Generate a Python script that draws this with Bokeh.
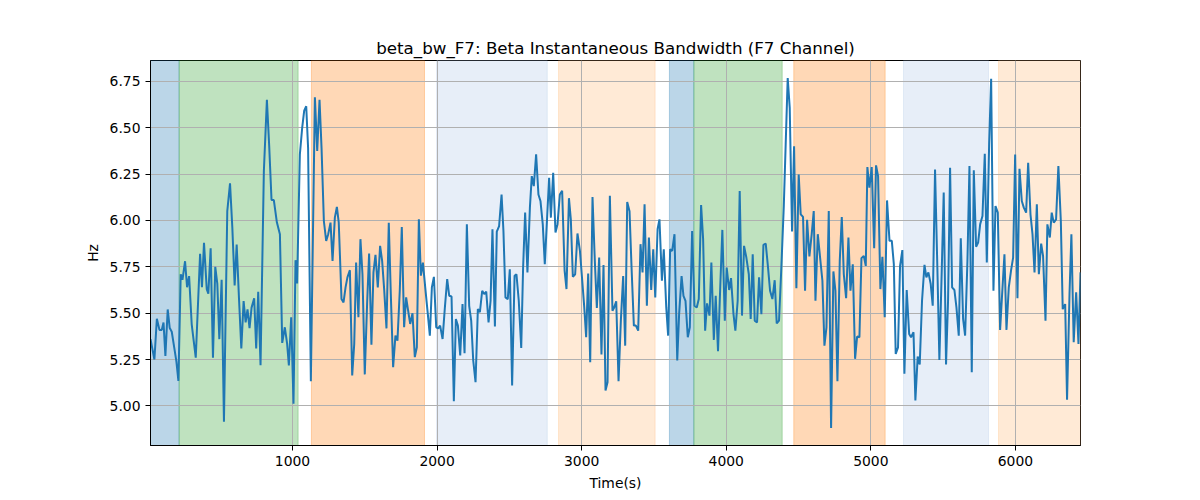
from bokeh.plotting import figure
from bokeh.models import BoxAnnotation, FixedTicker, NumeralTickFormatter, Range1d
from bokeh.embed import file_html
from bokeh.resources import INLINE

TITLE = "beta_bw_F7: Beta Instantaneous Bandwidth (F7 Channel)"
X_LABEL = "Time(s)"
Y_LABEL = "Hz"

x_ticks = [1000, 2000, 3000, 4000, 5000, 6000]
y_ticks = [5.00, 5.25, 5.50, 5.75, 6.00, 6.25, 6.50, 6.75]

# shaded stage bands
band_start = [18, 216, 1131, 1997, 2840, 3607, 3776, 4467, 5226, 5883]
band_end = [216, 1039, 1913, 2762, 3508, 3776, 4387, 5099, 5814, 6450]
band_color = ["#1f77b4", "#2ca02c", "#ff7f0e", "#aec7e8", "#ffbb78",
              "#1f77b4", "#2ca02c", "#ff7f0e", "#aec7e8", "#ffbb78"]

# series, in pieces
t_a = [18, 45, 62, 80, 96, 108, 121, 137, 151, 165, 179, 197, 211, 227, 239, 257, 271, 285, 303, 317,
       331, 361, 374, 388, 407, 418, 434, 450, 466, 480, 494, 510, 526, 549, 568, 584, 600, 614, 630, 646,
       662, 676, 689, 703, 717, 735, 749, 763, 779, 802, 823, 839, 855, 871, 892, 913, 929]
v_a = [5.36, 5.25, 5.47, 5.41, 5.41, 5.45, 5.27, 5.52, 5.42, 5.40, 5.33, 5.24, 5.135, 5.71, 5.68, 5.78, 5.64, 5.70, 5.44, 5.35,
       5.26, 5.82, 5.64, 5.88, 5.63, 5.605, 5.85, 5.26, 5.75, 5.66, 5.36, 5.68, 4.915, 6.05, 6.20, 5.96, 5.65, 5.87, 5.58, 5.31,
       5.565, 5.45, 5.52, 5.42, 5.53, 5.58, 5.31, 5.615, 5.22, 6.265, 6.65, 6.40, 6.11, 6.11, 5.99, 5.925, 5.34]

t_b = [947, 963, 975, 991, 1007, 1021, 1032, 1051, 1067, 1081, 1095, 1108, 1127, 1155, 1171, 1187, 1201, 1217, 1233, 1247,
       1263, 1277, 1293, 1307, 1320, 1339, 1353, 1367, 1380, 1397, 1413, 1427, 1440, 1456, 1470, 1484, 1500, 1516, 1530, 1546,
       1560, 1574, 1590, 1606, 1620, 1634, 1650, 1666, 1680, 1696, 1712, 1726, 1742, 1756, 1772, 1786, 1800, 1814, 1830, 1846]
v_b = [5.424, 5.334, 5.218, 5.478, 5.012, 5.786, 5.66, 6.356, 6.499, 6.592, 6.616, 6.39, 5.133, 6.664, 6.374, 6.651, 6.39, 5.997, 5.89, 5.926,
       5.988, 5.782, 6.015, 6.073, 5.988, 5.576, 5.558, 5.639, 5.693, 5.732, 5.164, 5.334, 5.773, 5.478, 5.899, 5.71, 5.17, 5.55, 5.822, 5.33,
       5.72, 5.815, 5.639, 5.863, 5.782, 5.63, 5.418, 5.988, 5.603, 5.209, 5.379, 5.352, 5.621, 5.965, 5.424, 5.585, 5.513, 5.442, 5.50, 5.263]

t_c = [1860, 1874, 1888, 1902, 1918, 1936, 1950, 1964, 1978, 1994, 2008, 2021, 2038, 2054, 2070, 2084, 2100, 2116, 2130, 2144,
       2160, 2176, 2190, 2206, 2222, 2236, 2250, 2266, 2282, 2296, 2312, 2326, 2340, 2356, 2370, 2383, 2400, 2413, 2429, 2446,
       2459, 2473, 2489, 2503, 2519, 2536, 2549, 2565, 2582, 2595, 2609, 2625, 2642, 2655, 2669, 2685, 2701, 2715, 2731, 2745,
       2761, 2775]
v_c = [5.316, 6.006, 5.702, 5.773, 5.639, 5.495, 5.379, 5.639, 5.696, 5.424, 5.418, 5.433, 5.361, 5.531, 5.684, 5.594, 5.59, 5.026, 5.469, 5.433,
       5.272, 5.549, 5.284, 5.979, 5.54, 5.46, 5.245, 5.128, 5.522, 5.505, 5.621, 5.603, 5.616, 5.45, 5.567, 5.953, 5.429, 5.94, 5.97, 6.14,
       5.943, 5.585, 5.576, 5.737, 5.11, 5.702, 5.71, 5.567, 5.313, 5.746, 6.042, 5.72, 6.069, 6.239, 6.185, 6.356, 6.14, 6.105, 5.979, 5.764,
       6.015, 6.23]

t_d = [2787, 2803, 2819, 2833, 2849, 2865, 2882, 2895, 2912, 2925, 2939, 2955, 2971, 2988, 3004, 3018, 3031, 3045, 3059, 3075,
       3091, 3105, 3121, 3137, 3151, 3165, 3179, 3195, 3213, 3225, 3239, 3255, 3271, 3287, 3301, 3315, 3331, 3345, 3361, 3375,
       3391, 3407, 3421, 3435, 3451, 3465, 3481, 3495, 3509, 3525, 3538, 3555, 3568, 3585, 3598, 3612, 3626, 3642, 3661, 3674,
       3691]
v_d = [6.015, 6.257, 5.935, 5.98, 6.14, 6.16, 5.73, 5.63, 6.12, 6.006, 5.696, 5.71, 5.93, 5.836, 5.675, 5.531, 5.37, 5.714, 5.236, 6.126,
       5.782, 5.528, 5.80, 5.277, 5.76, 5.083, 5.128, 6.133, 5.513, 5.531, 5.564, 5.133, 5.46, 5.70, 5.325, 6.10, 6.05, 5.746, 5.433, 5.433,
       5.406, 5.872, 5.72, 6.087, 5.54, 5.908, 5.625, 5.845, 5.585, 5.953, 6.006, 5.675, 5.845, 5.531, 5.379, 5.845, 5.836, 5.926, 5.245, 5.495,
       5.70]

t_e = [3704, 3718, 3734, 3748, 3764, 3780, 3796, 3810, 3826, 3840, 3854, 3867, 3884, 3897, 3914, 3927, 3943, 3960, 3973, 3990,
       4003, 4020, 4033, 4050, 4063, 4079, 4093, 4109, 4123, 4139, 4156, 4169, 4183, 4197, 4213, 4227, 4243, 4257, 4273, 4289,
       4303, 4319, 4335, 4349, 4365, 4381, 4398, 4411, 4425, 4439, 4455, 4469, 4485, 4501, 4515, 4531, 4545, 4559, 4575, 4591,
       4605, 4617]
v_e = [5.594, 5.567, 5.37, 5.424, 5.943, 5.54, 5.531, 5.576, 6.083, 5.899, 5.406, 5.553, 5.487, 5.773, 5.356, 5.594, 5.295, 5.675, 5.949, 5.46,
       5.746, 5.625, 5.689, 5.495, 5.406, 5.567, 6.159, 5.487, 5.863, 5.80, 5.71, 5.469, 5.818, 5.46, 5.45, 5.693, 5.495, 5.868, 5.875, 5.746,
       5.621, 5.576, 5.678, 5.445, 5.46, 5.746, 6.078, 6.41, 6.768, 6.607, 5.94, 6.40, 5.634, 6.248, 6.033, 6.019, 5.621, 6.004, 5.806, 5.926,
       6.051, 5.567]

t_f = [4633, 4649, 4665, 4679, 4693, 4709, 4725, 4741, 4755, 4769, 4785, 4799, 4813, 4829, 4845, 4859, 4875, 4891, 4905, 4921,
       4935, 4951, 4965, 4976, 4990, 5006, 5023, 5036, 5050, 5066, 5080, 5096, 5112, 5129, 5145, 5159, 5172, 5188, 5202, 5218,
       5232, 5248, 5265, 5278, 5295, 5308, 5324, 5338, 5354, 5371, 5384, 5398, 5414, 5428, 5444, 5460, 5474, 5490, 5504, 5520,
       5534]
v_f = [5.926, 5.80, 5.675, 5.325, 5.424, 6.051, 4.881, 5.725, 5.621, 5.133, 5.782, 6.019, 5.71, 5.581, 5.908, 5.621, 5.764, 5.254, 5.374, 5.37,
       5.797, 5.809, 5.755, 6.288, 6.177, 6.288, 5.85, 6.297, 6.239, 5.63, 5.804, 5.478, 6.108, 5.89, 5.89, 5.764, 5.28, 5.316, 5.755, 5.84,
       5.173, 5.625, 5.388, 5.37, 5.397, 5.03, 5.266, 5.223, 5.567, 5.761, 5.693, 5.72, 5.657, 5.54, 6.275, 5.746, 5.248, 5.72, 6.15, 5.223,
       5.567]

t_g = [5548, 5562, 5578, 5592, 5608, 5622, 5638, 5652, 5668, 5682, 5698, 5712, 5728, 5742, 5756, 5772, 5788, 5802, 5818, 5832,
       5848, 5862, 5878, 5894, 5908, 5924, 5938, 5954, 5970, 5984, 5998, 6014, 6028, 6044, 6058, 6074, 6088, 6104, 6118, 6132,
       6148, 6162, 6178, 6191, 6208, 6221, 6238, 6251, 6265, 6281, 6297, 6314, 6327, 6344, 6357, 6374, 6387, 6403, 6420, 6436,
       6450]
v_g = [6.284, 5.639, 5.625, 5.531, 5.379, 5.904, 5.469, 5.379, 5.782, 6.293, 5.182, 6.27, 5.858, 5.881, 5.979, 6.024, 6.359, 5.773, 6.41, 6.764,
       5.621, 6.078, 6.042, 5.41, 5.603, 5.818, 5.41, 5.639, 5.732, 5.80, 6.356, 5.581, 6.279, 6.105, 6.069, 6.042, 6.311, 6.033, 5.926, 5.72,
       6.087, 5.71, 5.875, 5.809, 5.46, 5.979, 5.908, 6.042, 5.988, 6.006, 6.293, 5.997, 5.522, 5.549, 5.033, 5.603, 5.926, 5.343, 5.612, 5.334,
       5.72]

pieces = [(t_a, v_a), (t_b, v_b), (t_c, v_c), (t_d, v_d), (t_e, v_e), (t_f, v_f), (t_g, v_g)]
times, values = [], []
for tt, vv in pieces:
    assert len(tt) == len(vv), (len(tt), len(vv))
    times += tt
    values += vv

vmin, vmax = min(values), max(values)
pad = (vmax - vmin) * 0.05

FONT = "DejaVu Sans"

p = figure(
    frame_width=930, frame_height=385,
    min_border_left=150, min_border_right=104, min_border_top=60, min_border_bottom=47,
    x_range=Range1d(min(times), max(times)),
    y_range=Range1d(vmin - pad, vmax + pad),
    output_backend="svg", toolbar_location=None,
    title=TITLE,
)
p.background_fill_color = "white"
p.border_fill_color = "white"
p.outline_line_color = "black"
p.outline_line_width = 1

p.title.text_font = FONT
p.title.text_font_size = "16.7px"
p.title.text_font_style = "normal"
p.title.align = "center"
p.title.text_color = "black"
p.title.standoff = 6

for s, e, c in zip(band_start, band_end, band_color):
    p.add_layout(BoxAnnotation(left=s, right=e, fill_color=c, fill_alpha=0.3,
                               line_color=c, line_alpha=0.3, line_width=1, level="image"))

p.line(times, values, line_color="#1f77b4", line_width=2)

p.xaxis.ticker = FixedTicker(ticks=x_ticks)
p.yaxis.ticker = FixedTicker(ticks=y_ticks)
p.yaxis.formatter = NumeralTickFormatter(format="0.00")
p.xgrid.ticker = FixedTicker(ticks=x_ticks)
p.ygrid.ticker = FixedTicker(ticks=y_ticks)
for g in (p.xgrid, p.ygrid):
    g.grid_line_color = "#b0b0b0"
    g.grid_line_width = 1

p.xaxis.axis_label = X_LABEL
p.yaxis.axis_label = Y_LABEL
for ax in (p.xaxis, p.yaxis):
    ax.axis_label_text_font = FONT
    ax.axis_label_text_font_size = "13.9px"
    ax.axis_label_text_font_style = "normal"
    ax.axis_label_text_color = "black"
    ax.axis_label_standoff = 6
    ax.major_label_text_font = FONT
    ax.major_label_text_font_size = "13.9px"
    ax.major_label_text_color = "black"
    ax.major_label_standoff = 5
    ax.major_tick_out = 5
    ax.major_tick_in = 0
    ax.minor_tick_out = 0
    ax.minor_tick_in = 0
    ax.axis_line_color = "black"
    ax.major_tick_line_color = "black"

open("out.html", "w").write(file_html(p, INLINE))
